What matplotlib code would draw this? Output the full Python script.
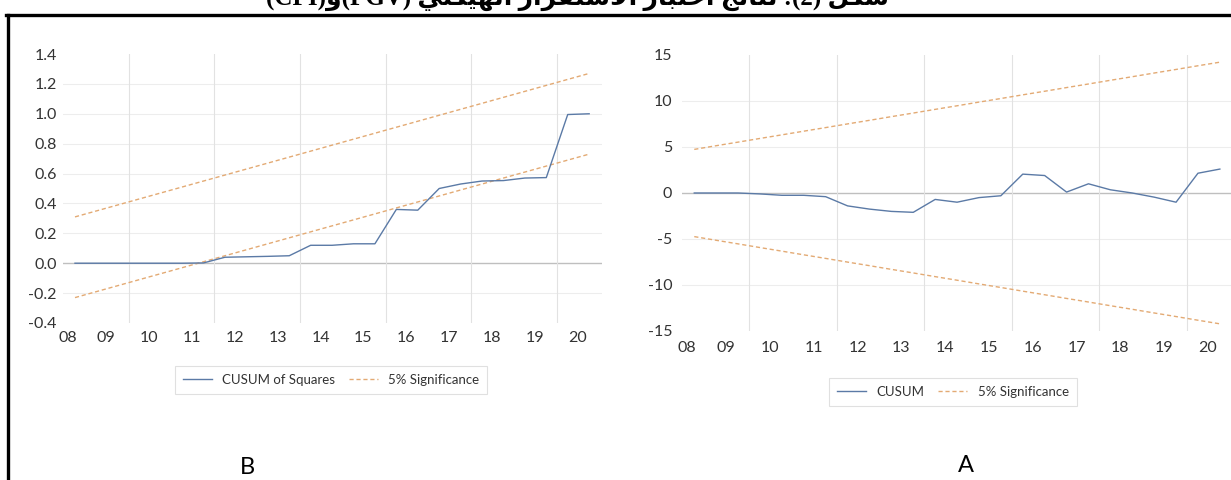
import matplotlib
matplotlib.use("Agg")
import matplotlib.pyplot as plt
from matplotlib.lines import Line2D

# half-yearly observation dates, 2008H2 .. 2020H2
dates = [2008.75 + 0.5 * i for i in range(25)]
year_labels = ["08", "09", "10", "11", "12", "13", "14", "15", "16", "17", "18", "19", "20"]

# panel A: CUSUM
cusum = [0.0, 0.0, 0.0, -0.1, -0.25, -0.25, -0.4, -1.4, -1.75, -2.0, -2.1, -0.7, -1.0,
         -0.5, -0.3, 2.05, 1.9, 0.1, 1.0, 0.35, 0.0, -0.45, -1.0, 2.15, 2.6]
cusum_upper = [4.74, 5.14, 5.53, 5.93, 6.32, 6.72, 7.11, 7.51, 7.90, 8.30, 8.69, 9.09, 9.48,
               9.88, 10.27, 10.67, 11.06, 11.46, 11.85, 12.25, 12.64, 13.04, 13.43, 13.83, 14.22]
cusum_lower = [-v for v in cusum_upper]

# panel B: CUSUM of squares
cusumsq = [0.0, 0.0, 0.0, 0.0, 0.0, 0.0, 0.002, 0.04, 0.043, 0.046, 0.05, 0.12, 0.12,
           0.13, 0.13, 0.36, 0.355, 0.50, 0.53, 0.55, 0.553, 0.57, 0.573, 0.995, 1.0]
sq_upper = [0.31, 0.35, 0.39, 0.43, 0.47, 0.51, 0.55, 0.59, 0.63, 0.67, 0.71, 0.75, 0.79,
            0.83, 0.87, 0.91, 0.95, 0.99, 1.03, 1.07, 1.11, 1.15, 1.19, 1.23, 1.27]
sq_lower = [-0.23, -0.19, -0.15, -0.11, -0.07, -0.03, 0.01, 0.05, 0.09, 0.13, 0.17, 0.21, 0.25,
            0.29, 0.33, 0.37, 0.41, 0.45, 0.49, 0.53, 0.57, 0.61, 0.65, 0.69, 0.73]

# Arabic caption, pre-shaped (presentation forms, visual order)
title = ("(CPI)\ufeed(PGV) \ufef2\ufee0\ufedc\ufef4\ufeec\ufedf\ufe8d "
         "\ufead\ufe8d\ufeae\ufed8\ufe98\ufeb3\ufefb\ufe8d \ufead\ufe8e\ufe92\ufe98\ufea7\ufe8d "
         "\ufe9e\ufe8b\ufe8e\ufe98\ufee7 :(2) \ufede\ufedc\ufeb7")

plt.rcParams['font.family'] = ['Lato', 'DejaVu Sans']

LINE_BLUE = '#5b7aa6'
DASH_ORANGE = '#e3aa74'
TXT = '#333333'

fig = plt.figure(figsize=(12.31, 4.8), dpi=100)


def style_axes(ax, yticks, ylabels, ypad, xpad):
    ax.set_xlim(2008.47, 2021.05)
    ax.set_ylim(yticks[0], yticks[-1])
    for s in ax.spines.values():
        s.set_visible(False)
    ax.set_yticks(yticks)
    ax.set_yticklabels(ylabels)
    xt = [2008.58] + [2009.48 + k for k in range(12)]
    ax.set_xticks(xt)
    ax.set_xticklabels(year_labels)
    ax.set_xticks(range(2010, 2021, 2), minor=True)
    ax.tick_params(axis='both', which='both', length=0, labelsize=11.5, colors=TXT)
    ax.tick_params(axis='y', pad=ypad)
    ax.tick_params(axis='x', pad=xpad)
    ax.grid(axis='x', which='minor', color='#e2e2e2', lw=0.8)
    for v in yticks[1:-1]:
        if v != 0:
            ax.axhline(v, color='#ededed', lw=0.8, zorder=0)
    ax.axhline(0, color='#bfbfbf', lw=1.0, zorder=1)


# Panel B (left): CUSUM of squares
axB = fig.add_axes([63 / 1231, 157 / 480, 539 / 1231, 269 / 480])
style_axes(axB, [-0.4, -0.2, 0.0, 0.2, 0.4, 0.6, 0.8, 1.0, 1.2, 1.4],
           ['-0.4', '-0.2', '0.0', '0.2', '0.4', '0.6', '0.8', '1.0', '1.2', '1.4'], 4.5, 5.5)
axB.plot(dates, cusumsq, color=LINE_BLUE, lw=1.0, label='CUSUM of Squares', zorder=3)
axB.plot(dates, sq_upper, color=DASH_ORANGE, lw=1.0, ls=(0, (3, 2)), label='5% Significance', zorder=2)
axB.plot(dates, sq_lower, color=DASH_ORANGE, lw=1.0, ls=(0, (3, 2)), zorder=2)
legB = axB.legend(loc='center', bbox_to_anchor=(331 / 1231, 1 - 380 / 480),
                  bbox_transform=fig.transFigure, ncol=2, fontsize=9.5, frameon=True,
                  fancybox=False, edgecolor='#d9d9d9', handlelength=2.2, columnspacing=1.0,
                  borderpad=0.6)
legB.get_frame().set_linewidth(0.8)
for t in legB.get_texts():
    t.set_color(TXT)

# Panel A (right): CUSUM
axA = fig.add_axes([682 / 1231, 149 / 480, 551 / 1231, 276 / 480])
style_axes(axA, [-15, -10, -5, 0, 5, 10, 15],
           ['-15', '-10', '-5', '0', '5', '10', '15'], 7, 7)
axA.plot(dates, cusum, color=LINE_BLUE, lw=1.0, label='CUSUM', zorder=3)
axA.plot(dates, cusum_upper, color=DASH_ORANGE, lw=1.0, ls=(0, (3, 2)), label='5% Significance', zorder=2)
axA.plot(dates, cusum_lower, color=DASH_ORANGE, lw=1.0, ls=(0, (3, 2)), zorder=2)
legA = axA.legend(loc='center', bbox_to_anchor=(953 / 1231, 1 - 392 / 480),
                  bbox_transform=fig.transFigure, ncol=2, fontsize=9.5, frameon=True,
                  fancybox=False, edgecolor='#d9d9d9', handlelength=2.2, columnspacing=1.0,
                  borderpad=0.6)
legA.get_frame().set_linewidth(0.8)
for t in legA.get_texts():
    t.set_color(TXT)

# panel letters
fig.text(247 / 1231, 1 - 467 / 480, 'B', ha='center', va='center', fontsize=17, color='black')
fig.text(966 / 1231, 1 - 465 / 480, 'A', ha='center', va='center', fontsize=17, color='black')

# page border (top and left edges of the frame)
fig.add_artist(Line2D([7.5 / 1231, 7.5 / 1231], [0, 1 - 15 / 480], color='black', lw=2.4))
fig.add_artist(Line2D([6 / 1231, 1], [1 - 15 / 480, 1 - 15 / 480], color='black', lw=2.4))

# cropped caption at the very top
fig.text(578 / 1231, 1 - 5 / 480, title, ha='center', va='baseline', fontsize=18,
         fontweight='bold', family=['Liberation Serif', 'DejaVu Sans'])

fig.savefig('out.png', dpi=100)
